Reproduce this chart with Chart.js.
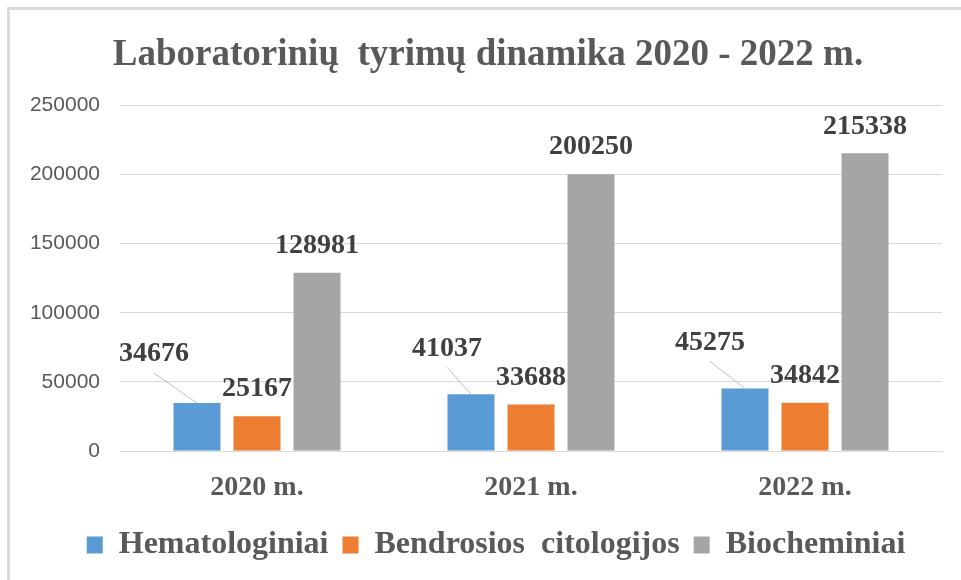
<!DOCTYPE html>
<html>
<head>
<meta charset="utf-8">
<script src="https://cdn.jsdelivr.net/npm/chart.js@4/dist/chart.umd.min.js"></script>
<style>
  html, body { margin: 0; padding: 0; background: #ffffff; }
  #wrap { position: relative; width: 961px; height: 580px; }
  canvas { display: block; }
</style>
</head>
<body>
<div id="wrap"><canvas id="c" width="961" height="580"></canvas></div>
<script>
// ---- data ----
const categories = ['2020 m.', '2021 m.', '2022 m.'];
const seriesNames = ['Hematologiniai', 'Bendrosios  citologijos', 'Biocheminiai'];
const hematologiniai = [34676, 41037, 45275];
const bendrosiosCitologijos = [25167, 33688, 34842];
const biocheminiai = [128981, 200250, 215338];
const yTicks = [0, 50000, 100000, 150000, 200000, 250000];
const chartTitle = 'Laboratorinių  tyrimų dinamika 2020 - 2022 m.';

// ---- styles ----
const colors = ['#5B9BD5', '#ED7D31', '#A5A5A5'];
const serif = '"Liberation Serif", "Times New Roman", serif';
const sans = '"Liberation Sans", Arial, sans-serif';
// callout label nudges (px) for first series, per category
const calloutOffsets = [[-43, -49], [-24, -46], [-35, -46]];
// horizontal nudges of title / legend blocks (px)
const titleShift = 12;
const legendShift = 20;

const valueLabels = {
  id: 'valueLabels',
  afterDatasetsDraw(chart) {
    const ctx = chart.ctx;
    ctx.save();
    ctx.font = 'bold 28px ' + serif;
    ctx.fillStyle = '#404040';
    ctx.textAlign = 'center';
    ctx.textBaseline = 'middle';
    chart.data.datasets.forEach((ds, di) => {
      const meta = chart.getDatasetMeta(di);
      meta.data.forEach((bar, i) => {
        let x = bar.x, y = bar.y - 27;
        if (di === 0) {
          const off = calloutOffsets[i];
          x = bar.x + off[0];
          y = bar.y + off[1];
          ctx.strokeStyle = '#bfbfbf';
          ctx.lineWidth = 1;
          ctx.beginPath();
          ctx.moveTo(x, y + 19);
          ctx.lineTo(bar.x, bar.y);
          ctx.stroke();
        }
        ctx.fillText(String(ds.data[i]), x, y);
      });
    });
    ctx.restore();
  }
};

const frame = {
  id: 'frame',
  afterLayout(chart) {
    if (chart.titleBlock) { chart.titleBlock.left += titleShift; chart.titleBlock.right += titleShift; }
    if (chart.legend) { chart.legend.left += legendShift; chart.legend.right += legendShift; }
  },
  beforeDraw(chart) {
    const ctx = chart.ctx;
    ctx.save();
    ctx.fillStyle = '#ffffff';
    ctx.fillRect(0, 0, chart.width, chart.height);
    ctx.fillStyle = '#dadada';
    ctx.fillRect(7, 7, chart.width - 7, 3);
    ctx.fillRect(7, 7, 3, chart.height - 7);
    ctx.restore();
  }
};

const seriesData = [hematologiniai, bendrosiosCitologijos, biocheminiai];

new Chart(document.getElementById('c'), {
  type: 'bar',
  data: {
    labels: categories,
    datasets: seriesNames.map((name, k) => ({
      label: name,
      data: seriesData[k],
      backgroundColor: colors[k],
      borderWidth: 0,
      categoryPercentage: 0.657,
      barPercentage: 0.783
    }))
  },
  options: {
    responsive: false,
    animation: false,
    layout: { padding: { left: 10, right: 19, top: 0, bottom: 9 } },
    plugins: {
      title: {
        display: true,
        text: chartTitle,
        color: '#595959',
        font: { family: serif, size: 37, weight: 'bold' },
        padding: { top: 33, bottom: 28 }
      },
      legend: {
        display: true,
        position: 'bottom',
        labels: {
          color: '#595959',
          font: { family: serif, size: 32, weight: 'bold' },
          boxWidth: 16,
          boxHeight: 17,
          padding: 14
        }
      },
      tooltip: { enabled: false }
    },
    scales: {
      x: {
        afterFit(scale) { scale.height = 64; },
        grid: { display: false, drawTicks: false },
        border: { display: true, color: '#d9d9d9' },
        ticks: {
          color: '#595959',
          font: { family: serif, size: 28, weight: 'bold' },
          padding: 20
        }
      },
      y: {
        min: yTicks[0],
        max: yTicks[yTicks.length - 1],
        afterFit(scale) { scale.width = 110; },
        afterBuildTicks(scale) { scale.ticks = yTicks.map(v => ({ value: v })); },
        grid: { color: '#d9d9d9', drawTicks: false },
        border: { display: false },
        ticks: {
          color: '#595959',
          font: { family: sans, size: 21 },
          padding: 20,
          callback: v => String(v)
        }
      }
    }
  },
  plugins: [frame, valueLabels]
});
</script>
</body>
</html>
